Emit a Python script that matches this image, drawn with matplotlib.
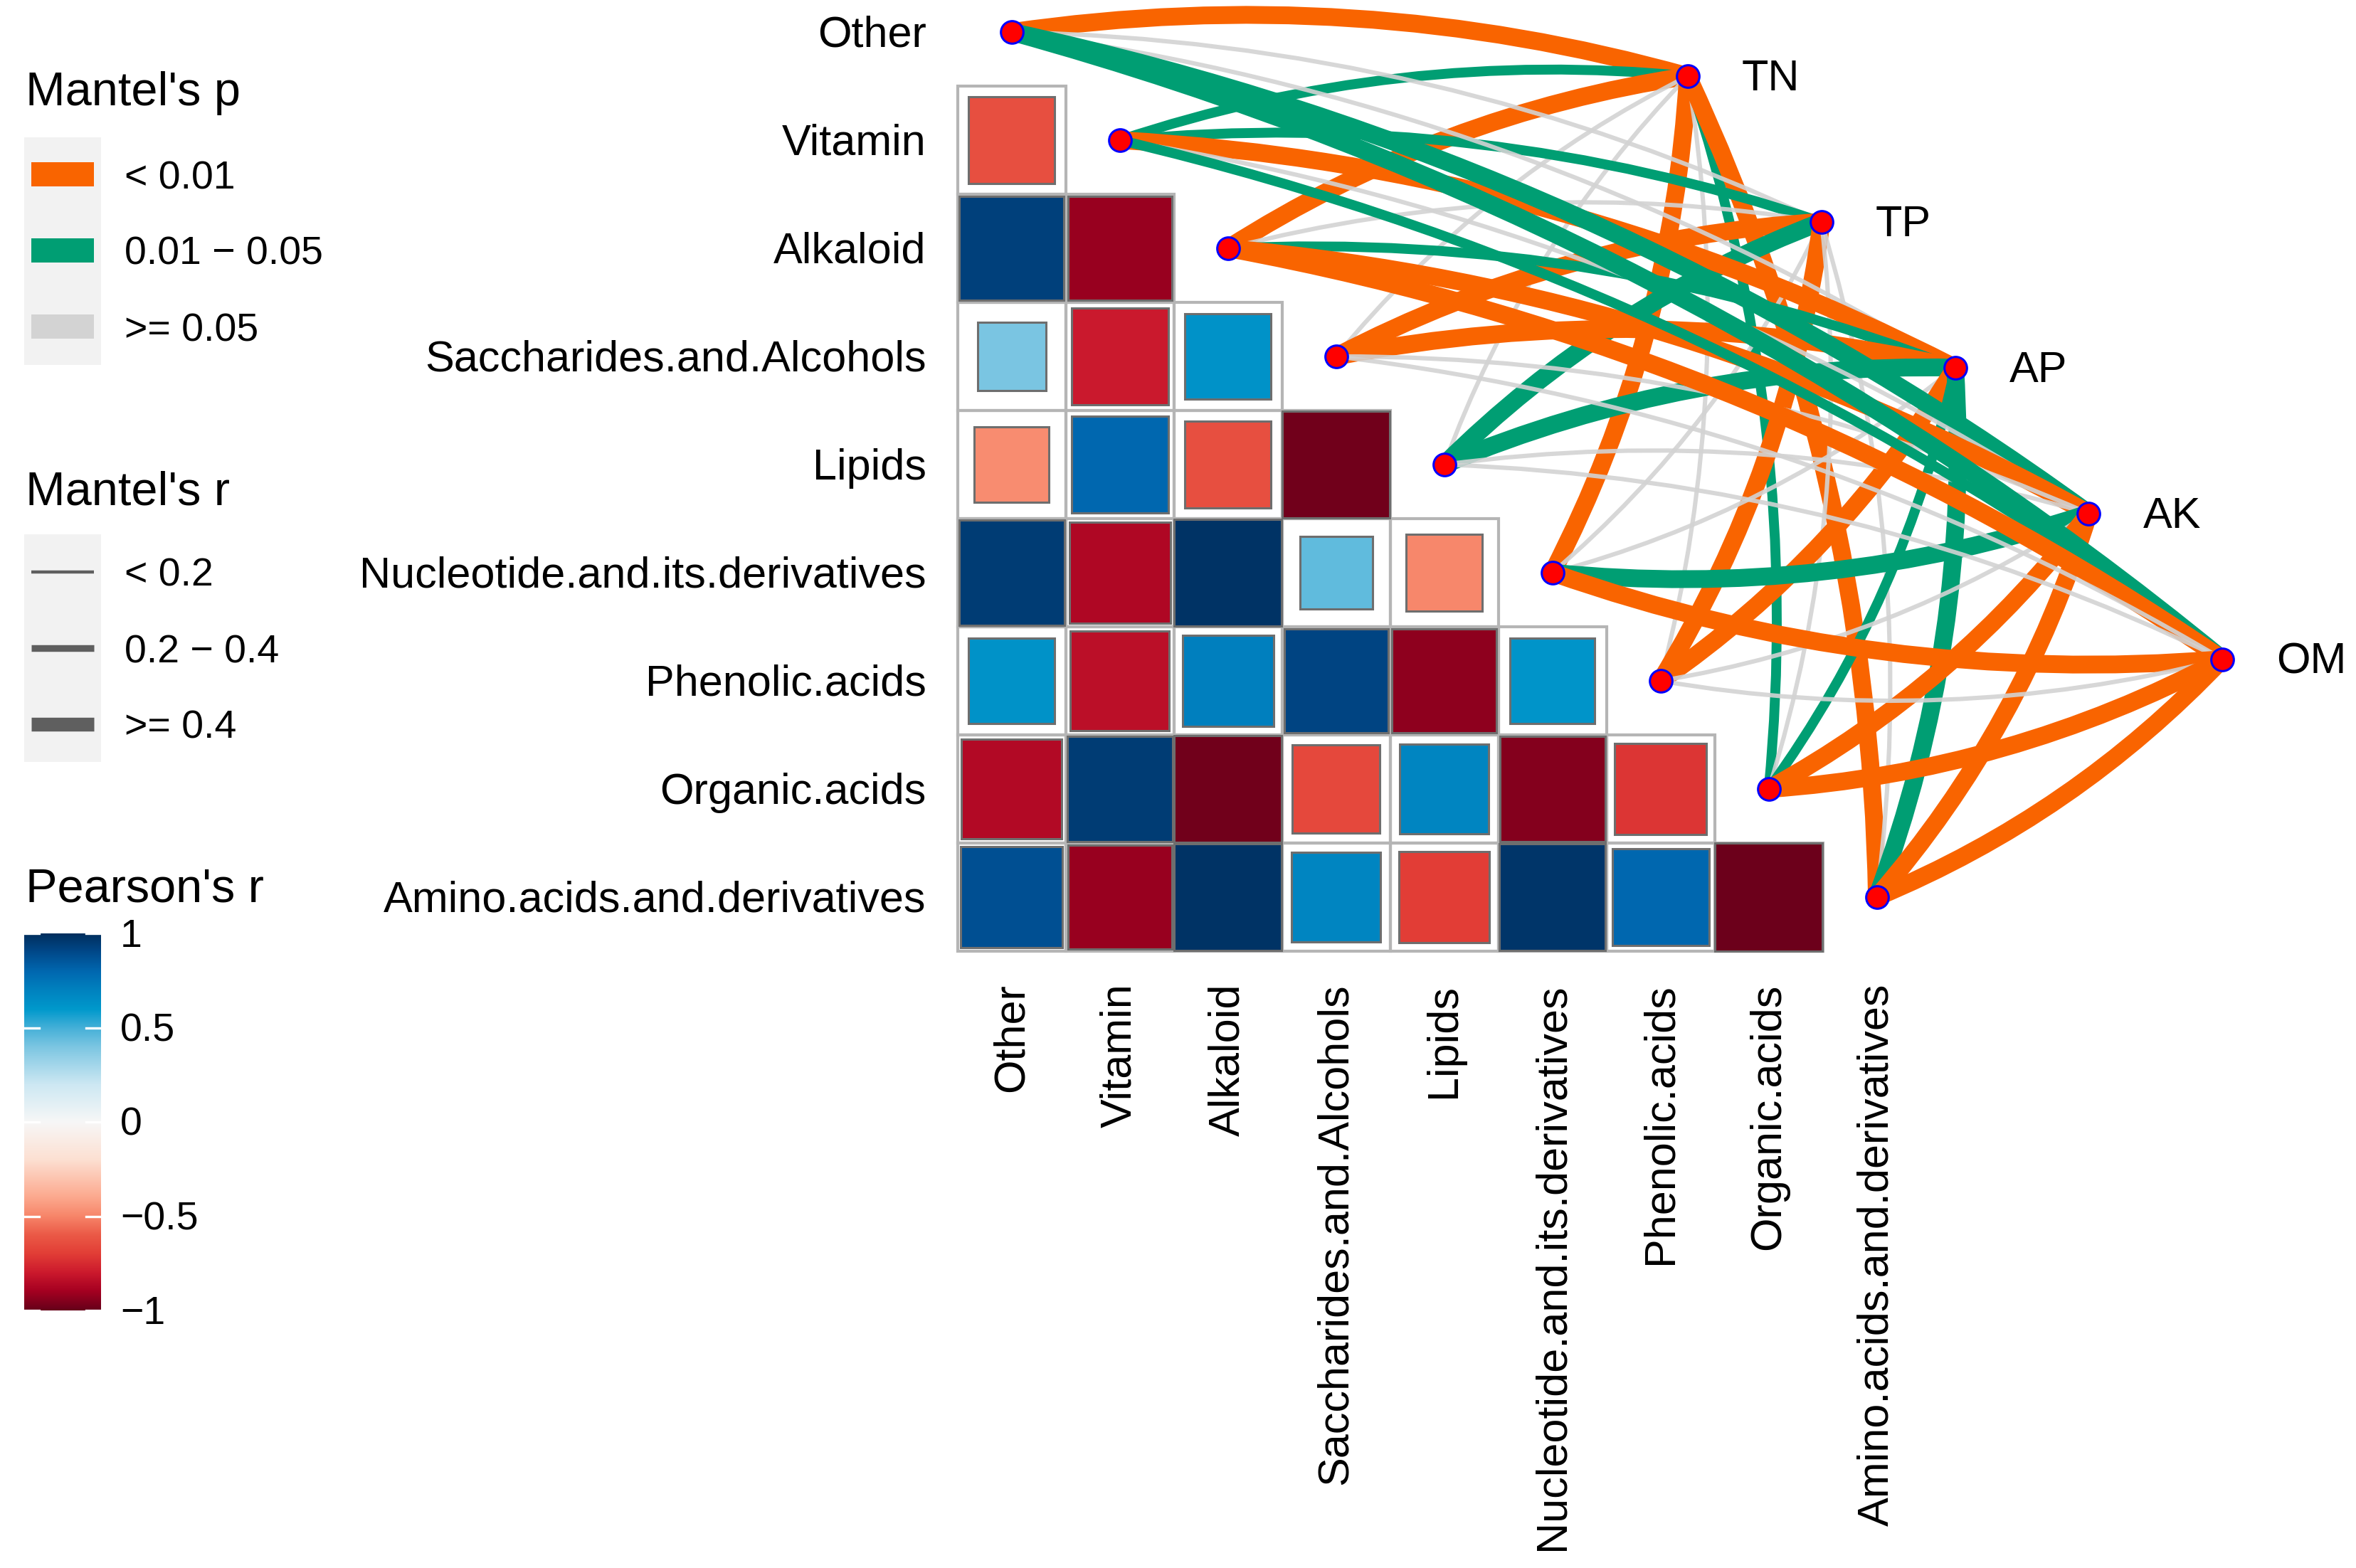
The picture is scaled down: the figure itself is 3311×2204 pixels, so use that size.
import numpy as np
import matplotlib
matplotlib.use("Agg")
import matplotlib.pyplot as plt
from matplotlib.colors import LinearSegmentedColormap, Normalize
from matplotlib.patches import Rectangle, PathPatch
from matplotlib.path import Path

plt.rcParams["font.family"] = ["Liberation Sans", "DejaVu Sans"]

# ---- data -------------------------------------------------------------
metabolites = ["Other", "Vitamin", "Alkaloid", "Saccharides.and.Alcohols", "Lipids",
               "Nucleotide.and.its.derivatives", "Phenolic.acids", "Organic.acids",
               "Amino.acids.and.derivatives"]
env_factors = ["TN", "TP", "AP", "AK", "OM"]

# Pearson's r between metabolite classes (lower triangle, row i -> columns 0..i-1)
pearson_r = [
    [],
    [-0.64],
    [0.93, -0.92],
    [0.40, -0.80, 0.63],
    [-0.48, 0.80, -0.64, -0.98],
    [0.95, -0.87, 0.98, 0.45, -0.50],
    [0.63, -0.84, 0.71, 0.92, -0.93, 0.62],
    [-0.86, 0.95, -0.98, -0.66, 0.68, -0.95, -0.72],
    [0.88, -0.92, 0.98, 0.68, -0.70, 0.97, 0.80, -0.99],
]

# Mantel test, one list per env factor, in metabolite order
mantel_p = {
    "TN": [0.004, 0.030, 0.003, 0.300, 0.250, 0.005, 0.400, 0.030, 0.002],
    "TP": [0.200, 0.020, 0.300, 0.006, 0.020, 0.300, 0.004, 0.500, 0.300],
    "AP": [0.300, 0.004, 0.030, 0.005, 0.020, 0.400, 0.003, 0.030, 0.020],
    "AK": [0.020, 0.200, 0.004, 0.300, 0.200, 0.030, 0.300, 0.004, 0.006],
    "OM": [0.030, 0.040, 0.002, 0.200, 0.300, 0.003, 0.400, 0.002, 0.001],
}
mantel_r = {
    "TN": [0.52, 0.31, 0.50, 0.10, 0.12, 0.48, 0.08, 0.33, 0.51],
    "TP": [0.10, 0.32, 0.12, 0.47, 0.45, 0.11, 0.49, 0.07, 0.09],
    "AP": [0.09, 0.49, 0.30, 0.46, 0.44, 0.10, 0.50, 0.30, 0.47],
    "AK": [0.55, 0.12, 0.48, 0.10, 0.11, 0.45, 0.09, 0.47, 0.46],
    "OM": [0.56, 0.31, 0.50, 0.12, 0.10, 0.49, 0.12, 0.52, 0.50],
}

p_labels = ["< 0.01", "0.01 \u2212 0.05", ">= 0.05"]
r_labels = ["< 0.2", "0.2 \u2212 0.4", ">= 0.4"]
cbar_ticks = [1, 0.5, 0, -0.5, -1]

# ---- styles -----------------------------------------------------------
p_colors = ["#F96400", "#009E73", "#D3D3D3"]
r_widths = [2.2, 5.0, 9.0]
key_widths = [1.6, 3.4, 7.0]
cmap = LinearSegmentedColormap.from_list("rb", [
    (0.00, "#67001a"), (0.05, "#a50021"), (0.10, "#cc1a2d"), (0.15, "#e23e36"),
    (0.20, "#eb5a47"), (0.25, "#f7866a"), (0.30, "#fca98e"), (0.40, "#fde0d2"),
    (0.50, "#f7f7f7"), (0.60, "#cde8f3"), (0.70, "#7cc6e2"), (0.75, "#45b0d8"),
    (0.80, "#0099cc"), (0.85, "#0082bf"), (0.90, "#0068b0"), (0.95, "#004a8c"),
    (1.00, "#002f5e")])
norm = Normalize(-1, 1)

W, H = 3311, 2204
fig = plt.figure(figsize=(W / 200, H / 200), dpi=200)
ax = fig.add_axes([0, 0, 1, 1])
ax.set_xlim(-9.353, 12.43)
ax.set_ylim(14.204, -0.296)
ax.axis("off")

n = len(metabolites)

# heatmap
for i, row in enumerate(pearson_r):
    for j, r in enumerate(row):
        ax.add_patch(Rectangle((j - 0.5, i - 0.5), 1, 1, fill=False,
                               ec="#b5b5b5", lw=1.5, zorder=1))
        s = np.sqrt(abs(r))
        ax.add_patch(Rectangle((j - s / 2, i - s / 2), s, s, fc=cmap(norm(r)),
                               ec="#6e6e6e", lw=1.1, zorder=2))

# env node layout (evenly spaced along a line to the upper right)
env_x = np.linspace(6.252, 11.195, len(env_factors))
env_y = np.linspace(0.408, 5.80, len(env_factors))

# couple lines
for k, env in enumerate(env_factors):
    pc = np.digitize(mantel_p[env], [0.01, 0.05])
    rc = np.digitize(mantel_r[env], [0.2, 0.4])
    for m in range(n):
        x0, y0 = m, m
        x1, y1 = env_x[k], env_y[k]
        dx, dy = x1 - x0, y1 - y0
        L = np.hypot(dx, dy)
        sgn = 1 if m <= 4 else -1
        h = 0.106 * L
        cx = (x0 + x1) / 2 + sgn * dy / L * h
        cy = (y0 + y1) / 2 - sgn * dx / L * h
        path = Path([(x0, y0), (cx, cy), (x1, y1)],
                    [Path.MOVETO, Path.CURVE3, Path.CURVE3])
        alpha = 0.9 if pc[m] == 2 else 1.0
        ax.add_patch(PathPatch(path, fill=False, ec=p_colors[pc[m]], lw=r_widths[rc[m]],
                               alpha=alpha, capstyle="butt", zorder=3))

# nodes
ax.scatter(np.arange(n), np.arange(n), s=130, c="#FF0000", edgecolors="#0000FF",
           linewidths=1.1, zorder=5)
ax.scatter(env_x, env_y, s=130, c="#FF0000", edgecolors="#0000FF",
           linewidths=1.1, zorder=5)

# labels
for i, name in enumerate(metabolites):
    ax.text(-0.79, i + 0.035, name, ha="right", va="center", fontsize=22)
    ax.text(i, 8.80, name, ha="center", va="top", rotation=90, fontsize=22)
for k, env in enumerate(env_factors):
    ax.text(env_x[k] + 0.5, env_y[k] + 0.03, env, ha="left", va="center", fontsize=22)

# ---- legends (pixel coordinates) ---------------------------------------
lax = fig.add_axes([0, 0, 1, 1])
lax.set_xlim(0, W)
lax.set_ylim(H, 0)
lax.axis("off")
lax.patch.set_alpha(0)

lax.text(36, 148, "Mantel's p", fontsize=24, va="baseline")
lax.add_patch(Rectangle((34, 193), 108, 320, fc="#f2f2f2", ec="none"))
for q, lab in enumerate(p_labels):
    yc = 245 + 107 * q
    lax.add_patch(Rectangle((44, yc - 17), 88, 34, fc=p_colors[q], ec="none"))
    lax.text(175, yc + 6, lab, fontsize=20, va="center")

lax.text(36, 709, "Mantel's r", fontsize=24, va="baseline")
lax.add_patch(Rectangle((34, 751), 108, 320, fc="#f2f2f2", ec="none"))
for q, lab in enumerate(r_labels):
    yc = 804 + 107 * q
    lax.plot([44, 132], [yc, yc], color="#5f5f5f", lw=key_widths[q], solid_capstyle="butt")
    lax.text(175, yc + 6, lab, fontsize=20, va="center")

lax.text(36, 1267, "Pearson's r", fontsize=24, va="baseline")
cb_top, cb_bot = 1312, 1842
grad = np.linspace(-1, 1, 256).reshape(-1, 1)
lax.imshow(grad, cmap=cmap, norm=norm, origin="lower", aspect="auto",
           extent=(34, 142, cb_bot, cb_top), interpolation="bilinear")
for v in cbar_ticks:
    yv = cb_bot - (v + 1) / 2 * (cb_bot - cb_top)
    lax.plot([34, 55], [yv, yv], color="white", lw=1.2)
    lax.plot([121, 142], [yv, yv], color="white", lw=1.2)
    lab = ("%g" % v).replace("-", "\u2212")
    lax.text(169, yv + 5, lab, fontsize=20, va="center")
lax.set_xlim(0, W)
lax.set_ylim(H, 0)

fig.savefig("out.png", dpi=200)
